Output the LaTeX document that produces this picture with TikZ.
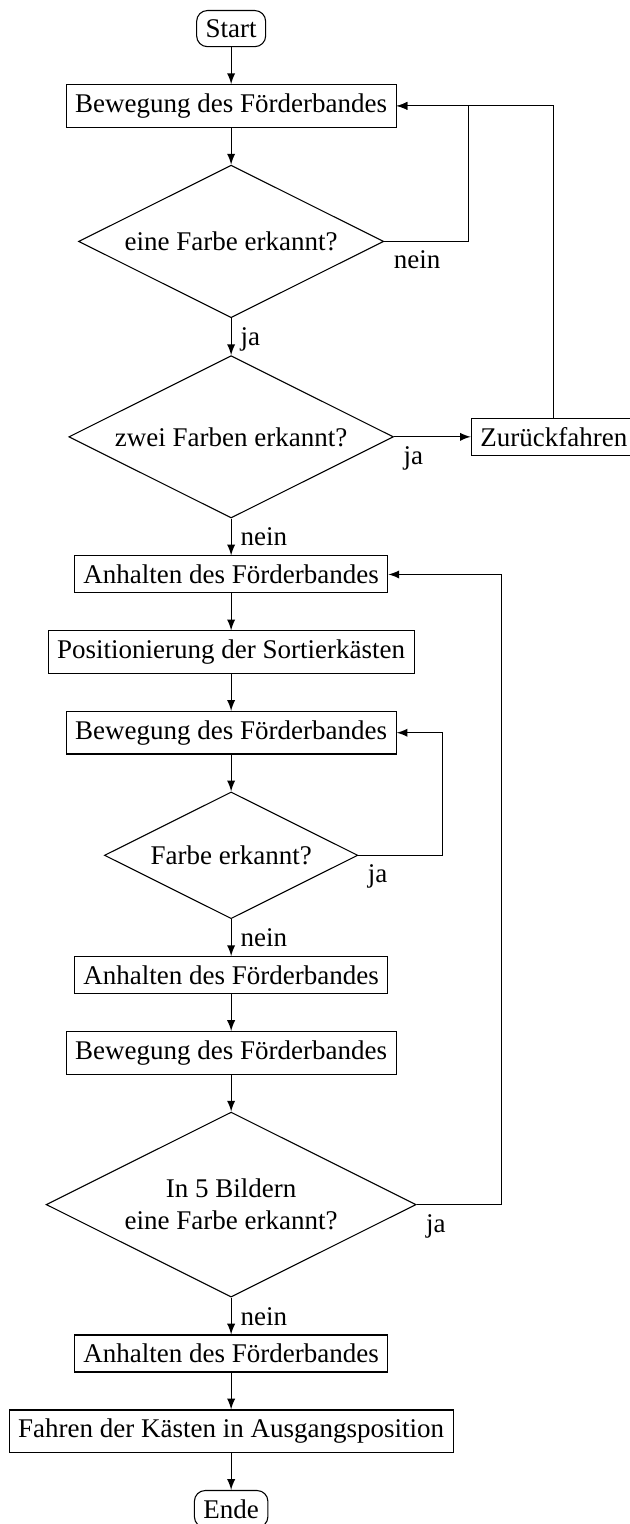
\documentclass[tikz,border=0pt]{standalone}
\usepackage{fontspec}
\setmainfont{Liberation Serif}
\usetikzlibrary{positioning,shapes.geometric}

\tikzset{
  startstop/.style={draw, rounded corners},
  process/.style={draw, rectangle},
  decision/.style={draw, diamond, aspect=2},
  line/.style={draw, -latex},
}

\begin{document}
\begin{tikzpicture}[node distance=0.48cm]
        % Fix the size of the picture
        \node[startstop] (start) {Start};
        \useasboundingbox ([xshift=-85.6pt,yshift=3.7pt]start.north) rectangle ++(233pt,-564.4pt);

        % Define the steps
        \node[process, below=of start] (band1) {Bewegung des Förderbandes};
        \node[decision, below=of band1] (farbe1) {eine Farbe erkannt?};
        \node[decision, below=of farbe1] (farbe2) {zwei Farben erkannt?};
        \node[process, right=1cm of farbe2] (zurueck) {Zurückfahren};
        \node[process, below=of farbe2] (halt1) {Anhalten des Förderbandes};
        \node[process, below=of halt1] (pos) {Positionierung der Sortierkästen};
        \node[process, below=of pos] (band2) {Bewegung des Förderbandes};
        \node[decision, below=of band2] (farbe3) {Farbe erkannt?};
        \node[process, below=of farbe3] (halt2) {Anhalten des Förderbandes};
        \node[process, below=of halt2] (band3) {Bewegung des Förderbandes};
        \node[decision, below=of band3, align=center] (farbe4) {In 5 Bildern\\eine Farbe erkannt?};
        \node[process, below=of farbe4] (halt3) {Anhalten des Förderbandes};
        \node[process, below=of halt3] (kaesten) {Fahren der Kästen in Ausgangsposition};
        \node[startstop, below=of kaesten] (ende) {Ende};

        % Corner points of the loops
        \coordinate (r1) at ([xshift=1.1cm]farbe1.east);
        \coordinate (r3) at ([xshift=1.1cm]farbe3.east);
        \coordinate (r4) at ([xshift=1.1cm]farbe4.east);

        % Draw the main flow
        \draw[line] (start) -- (band1);
        \draw[line] (band1) -- (farbe1);
        \draw[line] (farbe1) -- (farbe2) node[pos=0, below right] (ja1) {ja};
        \draw[line] (farbe2) -- (halt1) node[pos=0, below right] (nein2) {nein};
        \draw[line] (halt1) -- (pos);
        \draw[line] (pos) -- (band2);
        \draw[line] (band2) -- (farbe3);
        \draw[line] (farbe3) -- (halt2) node[pos=0, below right] (nein3) {nein};
        \draw[line] (halt2) -- (band3);
        \draw[line] (band3) -- (farbe4);
        \draw[line] (farbe4) -- (halt3) node[pos=0, below right] (nein4) {nein};
        \draw[line] (halt3) -- (kaesten);
        \draw[line] (kaesten) -- (ende);

        % Draw the loops
        \draw[line] (farbe1.east) -- (r1) |- (band1.east);
        \node[below right] (nein1) at (farbe1.east) {nein};
        \draw[line] (farbe2) -- (zurueck) node[pos=0, below right] (ja2) {ja};
        \draw[line] (zurueck.north) |- (band1.east);
        \draw[line] (farbe3.east) -- (r3) |- (band2.east);
        \node[below right] (ja3) at (farbe3.east) {ja};
        \draw[line] (farbe4.east) -- (r4) |- (halt1.east);
        \node[below right] (ja4) at (farbe4.east) {ja};
    \end{tikzpicture}
\end{document}
